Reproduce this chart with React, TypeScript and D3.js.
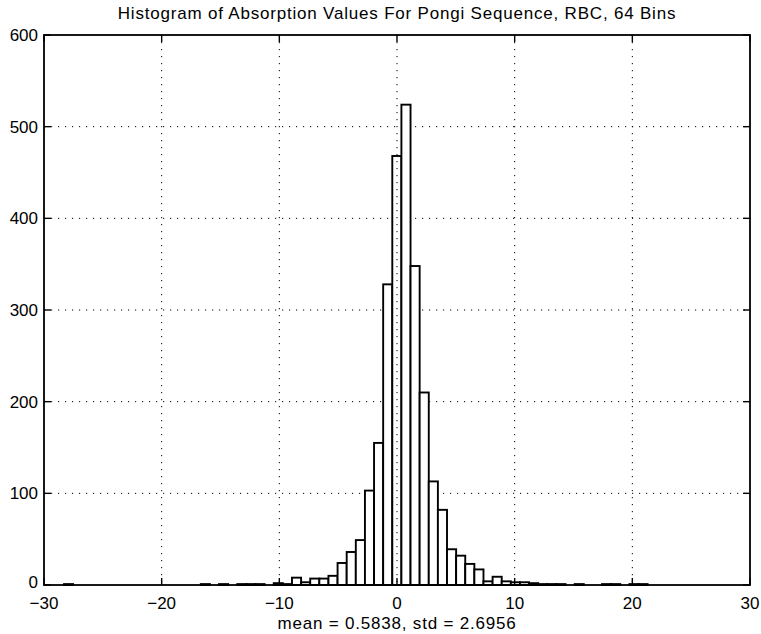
import React from "react";
import * as d3 from "d3";

// Chart text
const title = "Histogram of Absorption Values For Pongi Sequence, RBC, 64 Bins";
const xLabel = "mean = 0.5838, std = 2.6956";

// Histogram range (like MATLAB hist(y, 64): bins span min..max of the data)
const dataMin = -28.3;
const dataMax = 21.3;

// Counts per bin (64 bins, left to right)
const counts = [
  1, 0, 0, 0, 0, 0, 0, 0, 0, 0, 0, 0, 0, 0, 0, 1,
  0, 1, 0, 1, 1, 1, 0, 2, 1, 8, 3, 7, 7, 10, 24, 36,
  49, 103, 155, 328, 468, 524, 348, 210, 113, 82, 39, 32, 23, 17, 4, 9,
  4, 3, 3, 2, 1, 1, 1, 0, 1, 0, 0, 1, 1, 0, 1, 1,
];

const xTicks = [-30, -20, -10, 0, 10, 20, 30];
const yTicks = [0, 100, 200, 300, 400, 500, 600];

const W = 761;
const H = 634;
const plot = { left: 44, right: 750, top: 35, bottom: 585 };
const font = "'Liberation Sans', Arial, Helvetica, sans-serif";
const tickLen = 7;

const App = () => {
  const x = d3.scaleLinear().domain([-30, 30]).range([plot.left, plot.right]);
  const y = d3.scaleLinear().domain([0, 600]).range([plot.bottom, plot.top]);
  const fmt = d3.format("d");

  const binWidth = (dataMax - dataMin) / counts.length;
  const bins = counts.map((c, i) => ({
    x0: dataMin + i * binWidth,
    x1: dataMin + (i + 1) * binWidth,
    count: c,
  }));

  const grid = { stroke: "#000", strokeWidth: 1, strokeDasharray: "1.2,5.8" };

  return (
    <div style={{ position: "absolute", left: 0, top: 0 }}>
      <svg width={W} height={H} style={{ display: "block", background: "#fff" }}>
        <rect x={0} y={0} width={W} height={H} fill="#fff" />

        {/* horizontal grid, behind the bars */}
        {yTicks.slice(1, -1).map(t => (
          <line key={"gy" + t} x1={plot.left} x2={plot.right} y1={y(t)} y2={y(t)} {...grid} />
        ))}

        {/* bars */}
        {bins.map((b, i) => (
          <rect
            key={i}
            x={x(b.x0)}
            y={y(b.count)}
            width={x(b.x1) - x(b.x0)}
            height={y(0) - y(b.count)}
            fill="#fff"
            stroke="#000"
            strokeWidth={1.9}
          />
        ))}

        {/* vertical grid shows through the bars */}
        {xTicks.slice(1, -1).map(t => (
          <line key={"gx" + t} x1={x(t)} x2={x(t)} y1={plot.top} y2={plot.bottom} {...grid} />
        ))}

        {/* box */}
        <rect
          x={plot.left}
          y={plot.top}
          width={plot.right - plot.left}
          height={plot.bottom - plot.top}
          fill="none"
          stroke="#000"
          strokeWidth={1.8}
        />

        {/* ticks, pointing inward */}
        {xTicks.map(t => (
          <g key={"tx" + t} stroke="#000" strokeWidth={1.4}>
            <line x1={x(t)} x2={x(t)} y1={plot.bottom} y2={plot.bottom - tickLen} />
            <line x1={x(t)} x2={x(t)} y1={plot.top} y2={plot.top + tickLen} />
          </g>
        ))}
        {yTicks.map(t => (
          <g key={"ty" + t} stroke="#000" strokeWidth={1.4}>
            <line x1={plot.left} x2={plot.left + tickLen} y1={y(t)} y2={y(t)} />
            <line x1={plot.right} x2={plot.right - tickLen} y1={y(t)} y2={y(t)} />
          </g>
        ))}

        {/* tick labels */}
        {xTicks.map(t => (
          <text
            key={"lx" + t}
            x={x(t)}
            y={609}
            textAnchor="middle"
            fontFamily={font}
            fontSize={17}
            fill="#000"
          >
            {fmt(t)}
          </text>
        ))}
        {yTicks.map(t => (
          <text
            key={"ly" + t}
            x={plot.left - 6}
            y={y(t) + (t === 0 ? 3 : 6)}
            textAnchor="end"
            fontFamily={font}
            fontSize={17}
            fill="#000"
          >
            {fmt(t)}
          </text>
        ))}

        {/* title and x label */}
        <text
          x={(plot.left + plot.right) / 2}
          y={19}
          textAnchor="middle"
          fontFamily={font}
          fontSize={17}
          letterSpacing={0.8}
          fill="#000"
        >
          {title}
        </text>
        <text
          x={(plot.left + plot.right) / 2}
          y={629}
          textAnchor="middle"
          fontFamily={font}
          fontSize={17}
          letterSpacing={0.8}
          fill="#000"
        >
          {xLabel}
        </text>
      </svg>
    </div>
  );
};

export default App;
